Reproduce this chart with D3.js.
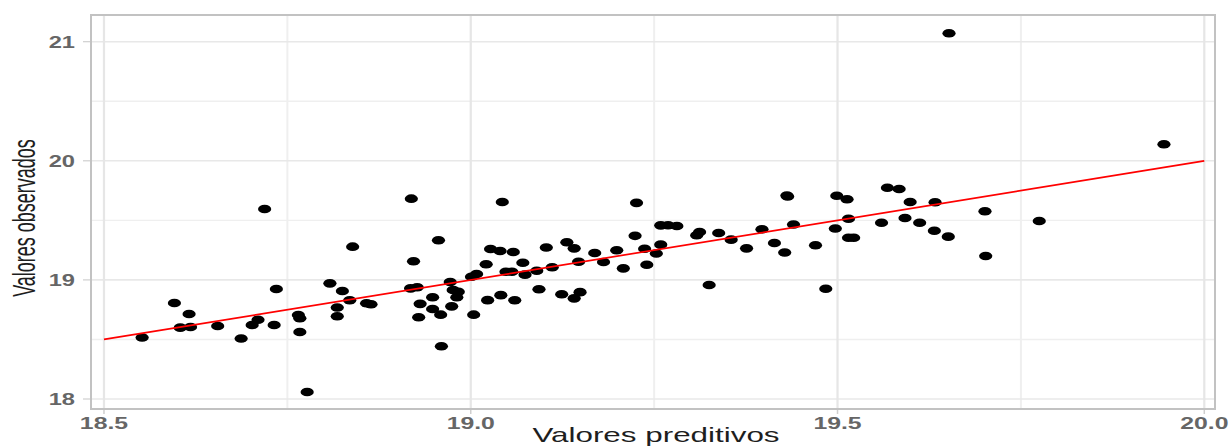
<!DOCTYPE html>
<html>
<head>
<meta charset="utf-8">
<script src="https://cdn.jsdelivr.net/npm/d3@7"></script>
<style>
  html, body { margin: 0; padding: 0; background: #ffffff; }
  svg { display: block; }
  text { font-family: "Liberation Sans", Arial, sans-serif; }
</style>
</head>
<body>
<svg id="chart" width="1230" height="446"></svg>
<script>
// ---- data ----
const predicted = [
  18.552,18.596,18.604,18.618,18.616,18.655,18.687,18.702,18.710,18.719,18.732,18.735,18.765,18.767,18.767,18.777,18.808,18.825,18.835,18.818,18.818,18.839,18.858,18.864,18.919,18.922,18.918,18.927,18.931,18.929,
  19.043,18.956,18.948,18.948,18.959,18.974,18.972,18.976,18.983,18.981,18.960,19.004,19.008,19.001,19.021,19.027,19.040,19.058,19.071,19.048,19.056,19.074,19.090,19.111,19.103,19.131,19.141,19.147,19.169,19.181,19.023,19.041,19.060,19.093,19.124,19.149,19.141,
  19.199,19.208,19.226,19.224,19.237,19.240,19.253,19.259,19.259,19.269,19.281,19.308,19.312,19.325,19.338,19.355,19.376,19.397,19.414,19.428,19.431,19.432,19.440,19.470,19.484,19.497,19.499,19.513,19.515,19.515,19.522,19.560,19.568,19.584,19.592,19.599,19.612,19.632,19.633,19.651,19.652,19.701,19.702,19.775,19.945
];
const observed = [
  18.516,18.806,18.599,18.605,18.714,18.613,18.508,18.621,18.666,19.595,18.621,18.924,18.705,18.678,18.563,18.059,18.971,18.907,18.829,18.768,18.695,19.279,18.804,18.795,19.682,19.157,18.929,18.938,18.799,18.686,
  19.654,19.333,18.854,18.756,18.708,18.778,18.982,18.915,18.901,18.854,18.443,18.708,19.050,19.027,19.131,19.259,19.243,19.234,19.144,19.069,19.069,19.044,19.077,19.106,19.272,19.316,19.265,19.153,19.226,19.150,18.830,18.872,18.829,18.921,18.879,18.897,18.845,
  19.249,19.097,19.647,19.370,19.262,19.127,19.222,19.296,19.458,19.459,19.453,19.375,19.402,18.957,19.394,19.338,19.265,19.425,19.310,19.230,19.709,19.700,19.465,19.291,18.926,19.432,19.707,19.677,19.514,19.354,19.354,19.480,19.774,19.763,19.520,19.654,19.480,19.413,19.652,19.363,21.071,19.576,19.201,19.495,20.139
];
const lineX = [18.5, 20.0];
const lineY = [18.5, 20.0];
const xTicks = [18.5, 19.0, 19.5, 20.0];
const xTickLabels = ["18.5", "19.0", "19.5", "20.0"];
const xMinor = [18.75, 19.25, 19.75];
const yTicks = [18, 19, 20, 21];
const yTickLabels = ["18", "19", "20", "21"];
const yMinor = [18.5, 19.5, 20.5];
const xTitle = "Valores preditivos";
const yTitle = "Valores observados";

// ---- layout ----
const panel = { left: 91, right: 1215, top: 15, bottom: 409 };
const stretch = 1.55;

const x = d3.scaleLinear().domain([18.4823, 20.0146]).range([panel.left, panel.right]);
const y = d3.scaleLinear().domain([17.916, 21.2242]).range([panel.bottom, panel.top]);

const svg = d3.select("#chart");

// grid minor
const grid = svg.append("g");
grid.selectAll("line.ymin").data(yMinor).join("line")
  .attr("x1", panel.left).attr("x2", panel.right)
  .attr("y1", d => y(d)).attr("y2", d => y(d))
  .attr("stroke", "#efefef").attr("stroke-width", 1.4);
grid.selectAll("line.xmin").data(xMinor).join("line")
  .attr("y1", panel.top).attr("y2", panel.bottom)
  .attr("x1", d => x(d)).attr("x2", d => x(d))
  .attr("stroke", "#efefef").attr("stroke-width", 2);
// grid major
grid.selectAll("line.ymaj").data(yTicks).join("line")
  .attr("x1", panel.left).attr("x2", panel.right)
  .attr("y1", d => y(d)).attr("y2", d => y(d))
  .attr("stroke", "#e8e8e8").attr("stroke-width", 1.6);
grid.selectAll("line.xmaj").data(xTicks).join("line")
  .attr("y1", panel.top).attr("y2", panel.bottom)
  .attr("x1", d => x(d)).attr("x2", d => x(d))
  .attr("stroke", "#e6e6e6").attr("stroke-width", 2.2);

// panel border
svg.append("rect")
  .attr("x", panel.left).attr("y", panel.top)
  .attr("width", panel.right - panel.left).attr("height", panel.bottom - panel.top)
  .attr("fill", "none").attr("stroke", "#c2c2c2").attr("stroke-width", 2);

// ticks
svg.append("g").selectAll("line").data(yTicks).join("line")
  .attr("x1", panel.left - 8).attr("x2", panel.left - 1)
  .attr("y1", d => y(d)).attr("y2", d => y(d))
  .attr("stroke", "#cfcfcf").attr("stroke-width", 1.2);
svg.append("g").selectAll("line").data(xTicks).join("line")
  .attr("x1", d => x(d)).attr("x2", d => x(d))
  .attr("y1", panel.bottom + 1).attr("y2", panel.bottom + 5)
  .attr("stroke", "#cfcfcf").attr("stroke-width", 1.5);

// tick labels
svg.append("g").selectAll("text").data(yTicks).join("text")
  .attr("transform", d => `translate(${panel.left - 16},${y(d) + 5.8}) scale(1.48,1)`)
  .attr("text-anchor", "end")
  .attr("font-size", 16)
  .attr("font-weight", 600)
  .attr("fill", "#666666")
  .text((d, i) => yTickLabels[i]);
svg.append("g").selectAll("text").data(xTicks).join("text")
  .attr("transform", d => `translate(${x(d)},${panel.bottom + 19.5}) scale(${stretch},1)`)
  .attr("text-anchor", "middle")
  .attr("font-size", 16)
  .attr("font-weight", 600)
  .attr("fill", "#666666")
  .text((d, i) => xTickLabels[i]);

// axis titles
svg.append("text")
  .attr("transform", `translate(${(panel.left + panel.right) / 2 + 3},441.5) scale(1.57,1)`)
  .attr("text-anchor", "middle")
  .attr("font-size", 20)
  .attr("fill", "#1e1e1e")
  .text(xTitle);
svg.append("text")
  .attr("transform", `translate(35,${(panel.top + panel.bottom) / 2 + 6}) scale(1.75,1) rotate(-90)`)
  .attr("text-anchor", "middle")
  .attr("font-size", 18)
  .attr("fill", "#1e1e1e")
  .text(yTitle);

// points
const pts = predicted.map((p, i) => ({ p, o: observed[i] }));
svg.append("g").selectAll("ellipse").data(pts).join("ellipse")
  .attr("cx", d => x(d.p)).attr("cy", d => y(d.o))
  .attr("rx", 6.6).attr("ry", 4.3)
  .attr("fill", "#000000");

// reference line
const lineData = lineX.map((v, i) => [v, lineY[i]]);
svg.append("path")
  .datum(lineData)
  .attr("d", d3.line().x(d => x(d[0])).y(d => y(d[1])))
  .attr("fill", "none").attr("stroke", "#ff0000").attr("stroke-width", 1.7);
</script>
</body>
</html>
